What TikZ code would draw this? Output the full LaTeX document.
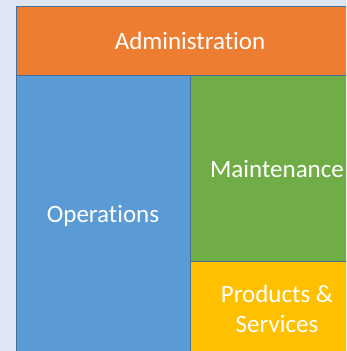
\documentclass[tikz,border=0pt]{standalone}
\usepackage{fontspec}
\setmainfont[Ligatures={NoCommon}]{Carlito}
\definecolor{bgc}{HTML}{DFE6F3}
\definecolor{edgec}{HTML}{41719C}
\definecolor{orng}{HTML}{ED7D31}
\definecolor{blu}{HTML}{5B9BD5}
\definecolor{grn}{HTML}{70AD47}
\definecolor{gld}{HTML}{FFC000}
\tikzset{
  area/.style={draw=edgec, line width=0.9pt},
  lbl/.style={text=white, font=\fontsize{25}{30}\selectfont, align=center, inner sep=0pt}
}
\begin{document}
\begin{tikzpicture}[x=1pt,y=-1pt]
\useasboundingbox (0,0) rectangle (346,351);
\fill[bgc] (0,0) rectangle (346,351);
\clip (0,0) rectangle (346,351);
\draw[area, fill=orng] (16,6) rectangle (364,75);
\draw[area, fill=blu] (16,75) rectangle (190,356);
\draw[area, fill=grn] (190,75) rectangle (364,261);
\draw[area, fill=gld] (190,261) rectangle (364,356);
\node[lbl] (adm) at (190,41) {Administration};
\node[lbl] (ops) at (103,216) {Operations};
\node[lbl] (mnt) at (277,169) {Maintenance};
\node[lbl] (prd) at (277,309) {Products \&\\Services};
\end{tikzpicture}
\end{document}
